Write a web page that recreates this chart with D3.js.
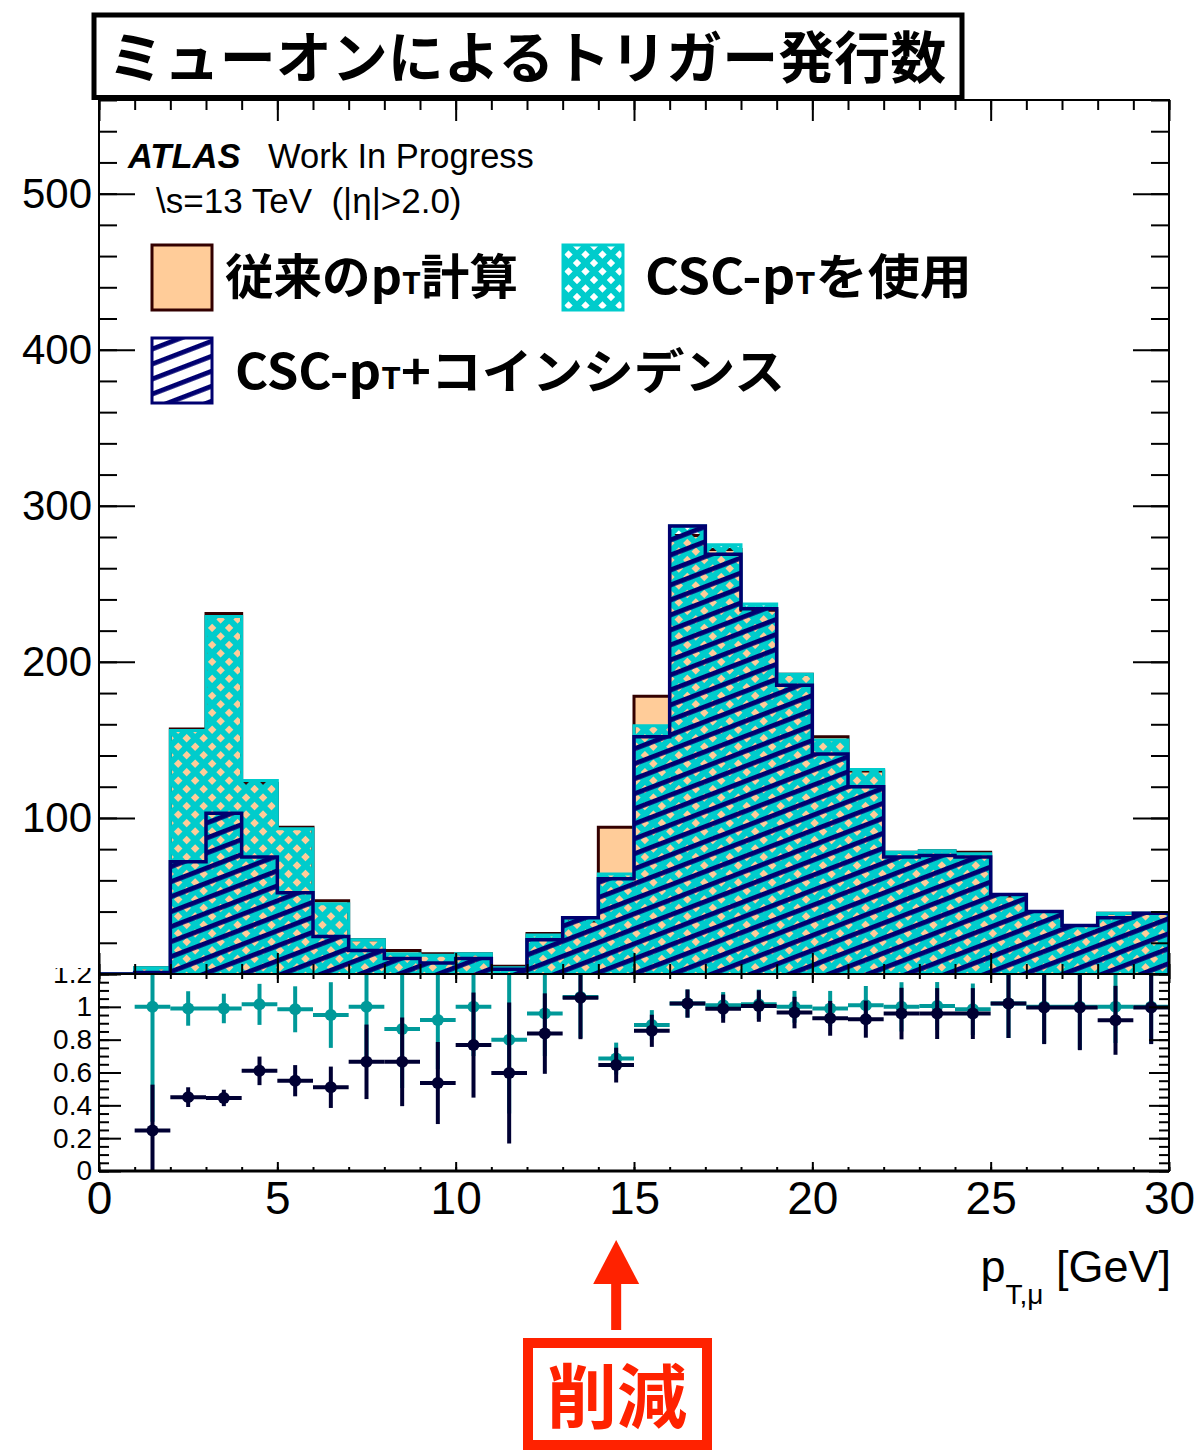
<!DOCTYPE html>
<html><head><meta charset="utf-8">
<script src="https://cdn.jsdelivr.net/npm/d3@7"></script>
<style>
body{margin:0;background:#fff}
svg{display:block}
.lat{font-family:"Liberation Sans",Arial,Helvetica,sans-serif}
.cjk{font-family:"Noto Sans CJK JP","Noto Sans",sans-serif;font-weight:700}
</style>
</head><body>
<svg id="chart" width="1195" height="1450"></svg>
<script>
// Muon pT bins: 1 GeV wide from 0 to 30 GeV
const binLow = d3.range(0, 30);
// Trigger counts per bin
const countsStd  = [0,4,157,231,122,94,47,22,15,13,13,5,26,34,94,178,281,272,233,192,152,130,78,79,78,50,40,31,39,39];
const countsCsc  = [0,4,156,229,124,93,45,22,13,12,13,4,25,36,64,159,287,275,237,192,150,131,78,79,77,51,40,31,39,39];
const countsCoin = [0,1,72,103,75,52,24,15,10,7,10,3,22,36,61,152,287,269,234,185,141,120,75,76,75,51,40,31,36,39];
// Ratios to the conventional pT calculation, with their errors (bin 0 has no entry)
const ratioCsc     = [null,1.0,0.99,0.99,1.015,0.985,0.95,1.0,0.865,0.92,1.0,0.8,0.96,1.06,0.685,0.89,1.02,1.01,1.015,1.0,0.99,1.01,1.0,1.005,0.985,1.02,1.0,1.0,1.0,1.0];
const ratioCscErr  = [null,0.7,0.105,0.09,0.125,0.14,0.2,0.3,0.36,0.3,0.3,0.45,0.26,0.25,0.097,0.09,0.085,0.08,0.09,0.097,0.107,0.117,0.15,0.146,0.157,0.21,0.223,0.26,0.22,0.223];
const ratioCoin    = [null,0.246,0.45,0.445,0.61,0.55,0.51,0.665,0.665,0.536,0.767,0.597,0.837,1.056,0.645,0.854,1.02,0.989,1.005,0.965,0.93,0.925,0.959,0.959,0.959,1.02,0.996,0.996,0.918,0.996];
const ratioCoinErr = [null,0.28,0.06,0.05,0.087,0.095,0.126,0.227,0.27,0.25,0.32,0.43,0.245,0.253,0.106,0.098,0.086,0.086,0.096,0.096,0.106,0.113,0.157,0.155,0.155,0.21,0.223,0.26,0.21,0.223];
// Axis ticks
const xMajor = d3.range(0, 31, 5);
const xMinor = d3.range(0, 31, 1);
const yMainLabels = [100,200,300,400,500];
const yMainMinor = d3.range(0, 561, 20);
const yRatioMajor = [0,0.2,0.4,0.6,0.8,1.0,1.2];
const yRatioMinor = d3.range(0, 1.2001, 0.05);

const svg = d3.select("#chart");
const L = 99, R = 1169, T = 100, B = 974, RB = 1171;
const x = d3.scaleLinear().domain([0, 30]).range([L, R]);
const y = d3.scaleLinear().domain([0, 560]).range([B, T]);
const yr = d3.scaleLinear().domain([0, 1.2]).range([RB, B]);

const cStdFill = "#ffcc99", cStdLine = "#330000";
const cCsc = "#00cccc", cCoin = "#000070";
const cRatioCsc = "#009999", cRatioCoin = "#000033";

const defs = svg.append("defs");
// cross-hatch: cyan lattice with diamond holes
const xh = defs.append("pattern").attr("id", "xhatch").attr("patternUnits", "userSpaceOnUse")
  .attr("width", 12).attr("height", 12).attr("patternTransform", "rotate(45)");
xh.append("path").attr("d", "M0,0H12V12H0Z M3,3v6h6v-6Z").attr("fill", cCsc).attr("fill-rule", "evenodd");
// diagonal stripes
const dh = defs.append("pattern").attr("id", "dhatch").attr("patternUnits", "userSpaceOnUse")
  .attr("width", 20).attr("height", 14).attr("patternTransform", "rotate(-21)");
dh.append("rect").attr("width", 20).attr("height", 4.8).attr("fill", cCoin);
defs.append("clipPath").attr("id", "mainClip").append("rect").attr("x", L).attr("y", T).attr("width", R - L).attr("height", B - T);
defs.append("clipPath").attr("id", "ratioClip").append("rect").attr("x", L).attr("y", B).attr("width", R - L).attr("height", RB - B);
defs.append("clipPath").attr("id", "ratioLabelClip").append("rect").attr("x", 0).attr("y", 968).attr("width", L).attr("height", 260);

// ---------- main panel ----------
const steps = vals => {
  const pts = [[binLow[0], 0]];
  vals.forEach((v, i) => { pts.push([binLow[i], v]); pts.push([binLow[i] + 1, v]); });
  pts.push([binLow[binLow.length - 1] + 1, 0]);
  return pts;
};
const stepLine = d3.line().x(d => x(d[0])).y(d => y(d[1]));
const hist = svg.append("g").attr("clip-path", "url(#mainClip)");
hist.append("path").attr("d", stepLine(steps(countsStd))).attr("fill", cStdFill).attr("stroke", cStdLine).attr("stroke-width", 3);
hist.append("path").attr("d", stepLine(steps(countsCsc))).attr("fill", "url(#xhatch)").attr("stroke", cCsc).attr("stroke-width", 3);
hist.append("path").attr("d", stepLine(steps(countsCoin))).attr("fill", "url(#dhatch)").attr("stroke", cCoin).attr("stroke-width", 3.5);

function tickAxis(axis, scale, vals, size, tx, ty) {
  const g = svg.append("g").attr("transform", `translate(${tx},${ty})`)
    .call(axis(scale).tickValues(vals).tickSize(size).tickFormat(""));
  g.select(".domain").remove();
  g.selectAll("line").attr("stroke", "#000").attr("stroke-width", 2);
  return g;
}
function labelAxis(parent, axis, scale, vals, fmt, pad, fs, tx, ty) {
  const g = parent.append("g").attr("transform", `translate(${tx},${ty})`)
    .call(axis(scale).tickValues(vals).tickSize(0).tickPadding(pad).tickFormat(fmt));
  g.select(".domain").remove();
  g.selectAll("text").attr("class", "lat").attr("font-size", fs).attr("fill", "#000");
  return g;
}
// main panel ticks (inward)
tickAxis(d3.axisRight, y, yMainMinor, 18, L, 0);
tickAxis(d3.axisRight, y, yMainLabels, 36, L, 0);
tickAxis(d3.axisLeft, y, yMainMinor, 18, R, 0);
tickAxis(d3.axisLeft, y, yMainLabels, 36, R, 0);
tickAxis(d3.axisBottom, x, xMinor, 10, 0, T);
tickAxis(d3.axisBottom, x, xMajor, 21, 0, T);
tickAxis(d3.axisTop, x, xMinor, 10, 0, B);
tickAxis(d3.axisTop, x, xMajor, 21, 0, B);
labelAxis(svg, d3.axisLeft, y, yMainLabels, d3.format("d"), 7, 42, L, 0);
svg.append("rect").attr("x", L).attr("y", T).attr("width", R - L).attr("height", B - T)
  .attr("fill", "none").attr("stroke", "#000").attr("stroke-width", 2);

// ---------- ratio panel ----------
const ratio = svg.append("g").attr("clip-path", "url(#ratioClip)");
function drawRatio(vals, errs, color) {
  const idx = binLow.filter(i => vals[i] !== null);
  const g = ratio.append("g");
  g.selectAll("line.h").data(idx).join("line").attr("class", "h")
    .attr("x1", i => x(binLow[i])).attr("x2", i => x(binLow[i] + 1))
    .attr("y1", i => yr(vals[i])).attr("y2", i => yr(vals[i]))
    .attr("stroke", color).attr("stroke-width", 4);
  g.selectAll("line.v").data(idx).join("line").attr("class", "v")
    .attr("x1", i => x(binLow[i] + 0.5)).attr("x2", i => x(binLow[i] + 0.5))
    .attr("y1", i => yr(vals[i] + errs[i])).attr("y2", i => yr(vals[i] - errs[i]))
    .attr("stroke", color).attr("stroke-width", 4);
  g.selectAll("circle").data(idx).join("circle")
    .attr("cx", i => x(binLow[i] + 0.5)).attr("cy", i => yr(vals[i])).attr("r", 6)
    .attr("fill", color);
}
drawRatio(ratioCsc, ratioCscErr, cRatioCsc);
drawRatio(ratioCoin, ratioCoinErr, cRatioCoin);

tickAxis(d3.axisRight, yr, yRatioMinor, 10, L, 0);
tickAxis(d3.axisRight, yr, yRatioMajor, 22, L, 0);
tickAxis(d3.axisLeft, yr, yRatioMinor, 10, R, 0);
tickAxis(d3.axisLeft, yr, yRatioMajor, 20, R, 0);
tickAxis(d3.axisTop, x, xMinor, 4, 0, RB);
tickAxis(d3.axisTop, x, xMajor, 9, 0, RB);
tickAxis(d3.axisBottom, x, xMinor, 5, 0, B);
tickAxis(d3.axisBottom, x, xMajor, 9, 0, B);
// ratio labels; the top one is partly hidden under the upper panel
const ratioLabels = svg.append("g").attr("clip-path", "url(#ratioLabelClip)");
labelAxis(ratioLabels, d3.axisLeft, yr, yRatioMajor, d => d3.format("~g")(d), 7, 28, L, 0);
labelAxis(svg, d3.axisBottom, x, xMajor, d3.format("d"), 10, 46, 0, RB);
svg.append("rect").attr("x", L).attr("y", B).attr("width", R - L).attr("height", RB - B)
  .attr("fill", "none").attr("stroke", "#000").attr("stroke-width", 2);
svg.append("line").attr("x1", L).attr("x2", R).attr("y1", RB).attr("y2", RB).attr("stroke", "#000").attr("stroke-width", 3);

// x axis title
const xt = svg.append("text").attr("class", "lat").attr("x", 1171).attr("y", 1282)
  .attr("text-anchor", "end").attr("font-size", 45).attr("fill", "#000");
xt.append("tspan").text("p");
xt.append("tspan").attr("font-size", 28).attr("dy", 22).text("T,μ");
xt.append("tspan").attr("dy", -22).text(" [GeV]");

// ---------- labels ----------
const atl = svg.append("text").attr("class", "lat").attr("x", 128).attr("y", 168).attr("font-size", 34.5).attr("fill", "#000");
atl.append("tspan").attr("font-weight", "bold").attr("font-style", "italic").text("ATLAS");
atl.append("tspan").attr("x", 268).text("Work In Progress");
svg.append("text").attr("class", "lat").attr("x", 156).attr("y", 213).attr("font-size", 35)
  .style("white-space", "pre").text("\\s=13 TeV  (|η|>2.0)");

// legend
const legend = [
  {fill: cStdFill, stroke: cStdLine, bx: 152, by: 245, tx: 225, ty: 294, len: 293, pre: "従来の", post: "計算"},
  {fill: "url(#xhatch)", stroke: cCsc, bx: 563, by: 245, tx: 645, ty: 294, len: 327, pre: "CSC-", post: "を使用"},
  {fill: "url(#dhatch)", stroke: cCoin, bx: 152, by: 338, tx: 235, ty: 389, len: 550, pre: "CSC-", post: "+コインシデンス"}
];
legend.forEach(e => {
  svg.append("rect").attr("x", e.bx).attr("y", e.by).attr("width", 60).attr("height", 65)
    .attr("fill", e.fill).attr("stroke", e.stroke).attr("stroke-width", 3);
  const t = svg.append("text").attr("class", "cjk").attr("x", e.tx).attr("y", e.ty).attr("font-size", 48)
    .attr("fill", "#000").attr("textLength", e.len).attr("lengthAdjust", "spacingAndGlyphs");
  t.append("tspan").text(e.pre + "p");
  t.append("tspan").attr("font-size", 30).text("T");
  t.append("tspan").text(e.post);
});

// title box
svg.append("rect").attr("x", 94).attr("y", 15).attr("width", 868).attr("height", 82.5)
  .attr("fill", "#fff").attr("stroke", "#000").attr("stroke-width", 5);
svg.append("text").attr("class", "cjk").attr("x", 527).attr("y", 78).attr("text-anchor", "middle")
  .attr("font-size", 56).attr("fill", "#000").text("ミューオンによるトリガー発行数");

// annotation: reduction at the 14-15 GeV bin
const red = "#ff2200";
const ax = x(14.5);
svg.append("path").attr("d", `M${ax},1240L${ax - 23},1284L${ax + 23},1284Z`).attr("fill", red);
svg.append("rect").attr("x", ax - 5).attr("y", 1280).attr("width", 10).attr("height", 50).attr("fill", red);
svg.append("rect").attr("x", 528).attr("y", 1343).attr("width", 179).attr("height", 102)
  .attr("fill", "#fff").attr("stroke", red).attr("stroke-width", 10);
svg.append("text").attr("class", "cjk").attr("x", 617).attr("y", 1423).attr("text-anchor", "middle")
  .attr("font-size", 70).attr("fill", red).text("削減");
</script>
</body></html>
